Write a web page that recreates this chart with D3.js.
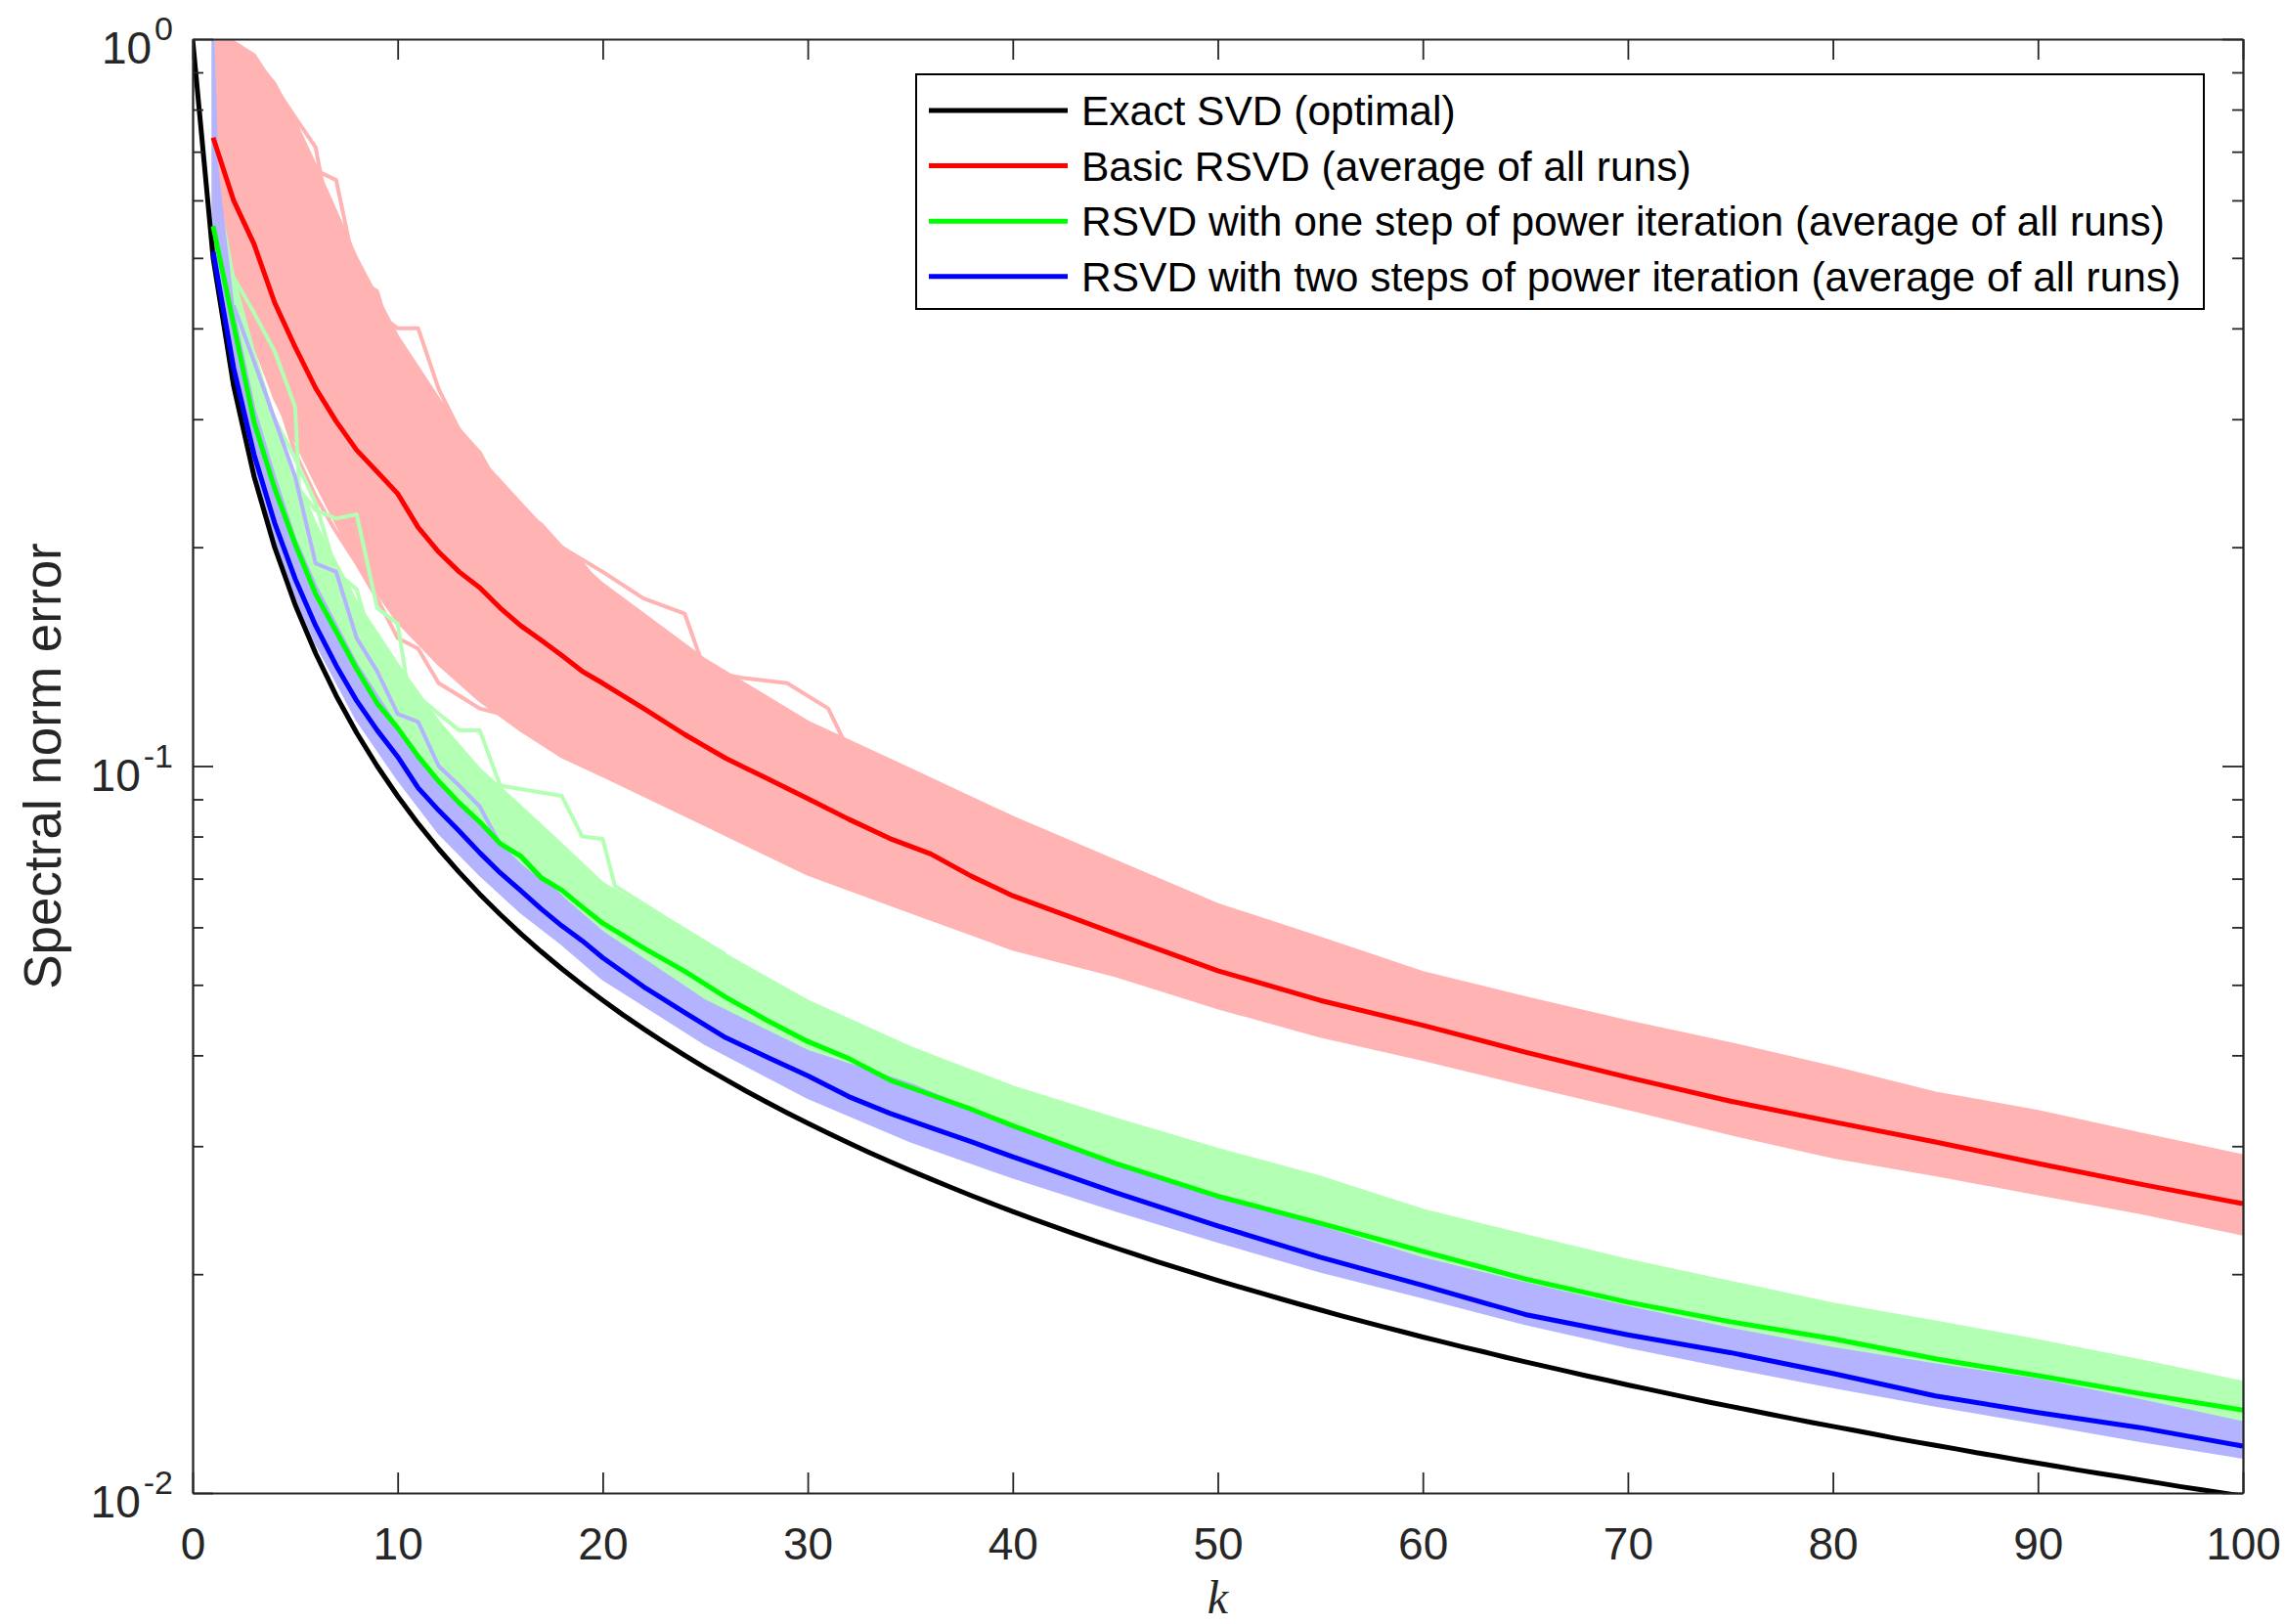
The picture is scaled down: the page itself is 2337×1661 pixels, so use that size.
<!DOCTYPE html>
<html><head><meta charset="utf-8">
<script src="https://cdn.jsdelivr.net/npm/d3@7"></script>
<style>body{margin:0;background:#fff}svg{display:block}</style>
</head><body>
<svg id="c" width="2337" height="1661"></svg>
<script>
// ---------------- DATA ----------------
const kExact = d3.range(0, 101);
const exactSVD = [1,0.5,0.3333,0.25,0.2,0.1667,0.1429,0.125,0.1111,0.1,
0.09091,0.08333,0.07692,0.07143,0.06667,0.0625,0.05882,0.05556,0.05263,0.05,
0.04762,0.04545,0.04348,0.04167,0.04,0.03846,0.03704,0.03571,0.03448,0.03333,
0.03226,0.03125,0.0303,0.02941,0.02857,0.02778,0.02703,0.02632,0.02564,0.025,
0.02439,0.02381,0.02326,0.02273,0.02222,0.02174,0.02128,0.02083,0.02041,0.02,
0.01961,0.01923,0.01887,0.01852,0.01818,0.01786,0.01754,0.01724,0.01695,0.01667,
0.01639,0.01613,0.01587,0.01563,0.01538,0.01515,0.01493,0.01471,0.01449,0.01429,
0.01408,0.01389,0.0137,0.01351,0.01333,0.01316,0.01299,0.01282,0.01266,0.0125,
0.01235,0.0122,0.01205,0.0119,0.01176,0.01163,0.0115,0.01136,0.01124,0.01111,
0.01099,0.01087,0.01075,0.01064,0.01053,0.01042,0.01031,0.0102,0.0101,0.01,0.0099];

const kAvg = [1,2,3,4,5,6,7,8,9,10,11,12,13,14,15,16,17,18,19,20,
22,24,26,28,30,32,34,36,38,40,45,50,55,60,65,70,75,80,85,90,95,100];
const redAvg = [0.732,0.600,0.522,0.434,0.377,0.331,0.298,0.272,0.254,0.237,0.213,0.197,0.185,0.176,0.165,0.156,0.149,0.142,0.135,0.13,
0.12,0.1105,0.1025,0.0962,0.0902,0.0845,0.0795,0.0757,0.0705,0.0663,
0.0588,0.0523,0.0476,0.044,0.0404,0.0373,0.0346,0.0324,0.0304,0.0284,0.0266,0.025];
const greenAvg = [0.553,0.405,0.297,0.241,0.202,0.1724,0.1532,0.136,0.122,0.1128,0.1031,0.0953,0.089,0.0838,0.0782,0.0752,0.0702,0.0675,0.064,0.0608,
0.0562,0.0522,0.0481,0.0447,0.0418,0.0396,0.037,0.0353,0.0337,0.032,
0.0284,0.0256,0.0235,0.0215,0.0197,0.0183,0.0172,0.0163,0.0153,0.0145,0.0137,0.013];
const blueAvg = [0.51,0.353,0.268,0.216,0.181,0.156,0.1375,0.123,0.112,0.103,0.0933,0.0869,0.0814,0.076,0.0713,0.0674,0.0636,0.0603,0.0575,0.0545,
0.0497,0.0458,0.0423,0.0398,0.0375,0.0351,0.0333,0.0318,0.0304,0.029,
0.0259,0.0233,0.0211,0.0193,0.0176,0.0165,0.0156,0.0146,0.0136,0.0129,0.0123,0.0116];

// spread of the individual runs (band of all runs)
const bandK = [1,1.2,2,3,4,5,6,8,10,12,14,16,18,20,25,30,35,40,45,50,55,60,65,70,75,80,85,90,95,100];
const redLo = [0.55,0.54,0.47,0.38,0.32,0.28,0.245,0.19,0.158,0.138,0.123,0.112,0.103,0.097,0.083,0.071,0.063,0.056,0.0515,0.0465,0.0425,0.0395,0.0365,0.0338,0.0312,0.029,0.0274,0.0258,0.0243,0.0227];
const redHi = [1.0,1.0,0.98,0.94,0.87,0.77,0.67,0.50,0.39,0.32,0.265,0.23,0.2,0.178,0.14,0.115,0.099,0.085,0.074,0.0645,0.058,0.052,0.048,0.0445,0.0415,0.0385,0.0355,0.0335,0.0312,0.0291];
const greenLo = [0.5,0.47,0.36,0.27,0.215,0.18,0.155,0.122,0.101,0.087,0.076,0.068,0.061,0.056,0.046,0.0395,0.035,0.0305,0.0275,0.025,0.023,0.021,0.0194,0.018,0.0168,0.0158,0.0149,0.0141,0.0133,0.0124];
const greenHi = [1.0,0.62,0.47,0.37,0.30,0.25,0.215,0.168,0.138,0.115,0.099,0.088,0.078,0.069,0.057,0.0475,0.041,0.0362,0.0327,0.0297,0.0272,0.0245,0.0226,0.0209,0.0195,0.0182,0.0172,0.0162,0.0152,0.0142];
const blueLo = [0.5,0.46,0.335,0.255,0.205,0.172,0.148,0.116,0.096,0.081,0.071,0.063,0.057,0.051,0.0415,0.035,0.0305,0.0272,0.0245,0.0222,0.0202,0.0186,0.0171,0.0159,0.0149,0.014,0.0132,0.0125,0.0118,0.0112];
const blueHi = [1.0,0.66,0.42,0.31,0.25,0.205,0.177,0.138,0.113,0.095,0.083,0.073,0.066,0.059,0.0475,0.0405,0.0365,0.0318,0.0285,0.0255,0.0232,0.021,0.0194,0.018,0.0168,0.0158,0.015,0.0143,0.0134,0.0125];

// a few individual outlying runs, [k, error]
const redRunA = [[1,1.0],[2,0.99],[3,0.95],[4,0.86],[5,0.78],[6,0.71],[7,0.50],[8,0.48],[9,0.42],[10,0.40],[11,0.40],[12,0.33],[13,0.29],[14,0.27],[15,0.24],[16,0.225],[17,0.215],[18,0.20],[19,0.19],[20,0.175],[22,0.15],[24,0.135]];
const redRunB = [[1,0.98],[2,0.96],[3,0.90],[4,0.78],[5,0.68],[6,0.66],[7,0.64],[8,0.47],[9,0.45],[10,0.36],[11,0.30],[12,0.29],[13,0.25],[14,0.245],[15,0.22],[16,0.205],[17,0.195],[18,0.185],[19,0.17],[20,0.16],[22,0.145]];
const redRunC = [[2,0.93],[3,0.80],[4,0.73],[5,0.60],[6,0.52],[7,0.44],[8,0.43],[9,0.34],[10,0.31],[11,0.30],[12,0.30],[13,0.235],[14,0.22],[15,0.21],[16,0.19],[17,0.185],[18,0.17],[19,0.165],[20,0.155]];
const redRunD = [[1,0.6],[2,0.45],[3,0.38],[4,0.33],[5,0.27],[6,0.235],[7,0.21],[8,0.19],[9,0.17],[10,0.15],[11,0.145],[12,0.13],[13,0.125],[14,0.12],[15,0.118],[16,0.116],[17,0.11],[18,0.108],[19,0.106],[20,0.103],[22,0.097],[24,0.092],[26,0.085],[28,0.08],[30,0.074]];
const redRunE = [[16,0.22],[18,0.2],[20,0.185],[22,0.17],[24,0.162],[25,0.135],[27,0.132],[29,0.13],[31,0.12],[32,0.105],[34,0.098],[36,0.09]];
const greenRunA = [[2,0.47],[3,0.42],[4,0.372],[5,0.312],[5.2,0.24],[6,0.225],[7,0.219],[8,0.222],[9,0.165],[10,0.157],[10.5,0.128],[12,0.118],[13,0.112],[14,0.112],[15,0.094],[16,0.093],[17,0.092],[18,0.091],[19,0.08],[20,0.0794],[20.6,0.0684],[23,0.062],[26,0.055]];
const greenRunB = [[3,0.33],[4,0.30],[5,0.265],[6,0.23],[7,0.185],[8,0.175],[9,0.14],[10,0.125],[11,0.122],[12,0.105],[13,0.10],[14,0.095],[15,0.085],[16,0.08]];
const blueRunA = [[2,0.43],[3,0.36],[4,0.30],[5,0.25],[6,0.19],[7,0.185],[8,0.15],[9,0.135],[10,0.118],[11,0.115],[12,0.10],[13,0.094],[14,0.088],[15,0.078],[16,0.075],[17,0.07],[18,0.066]];

const xTicks = [0,10,20,30,40,50,60,70,80,90,100];
const yMajor = [0.01,0.1,1];
const yMajorExp = ["-2","-1","0"];
const yMinor = [0.02,0.03,0.04,0.05,0.06,0.07,0.08,0.09,0.2,0.3,0.4,0.5,0.6,0.7,0.8,0.9];
const legendLabels = ["Exact SVD (optimal)","Basic RSVD (average of all runs)",
 "RSVD with one step of power iteration (average of all runs)",
 "RSVD with two steps of power iteration (average of all runs)"];

// ---------------- DRAW ----------------
const L=197,R=2294,T=40,B=1527;
const FONT="'Liberation Sans', Arial, Helvetica, sans-serif";
const AX='#262626';
const x=d3.scaleLinear().domain([0,100]).range([L,R]);
const y=d3.scaleLog().domain([0.01,1]).range([B,T]);
const svg=d3.select('#c');
svg.append('rect').attr('width',2337).attr('height',1661).attr('fill','#fff');
svg.append('defs').append('clipPath').attr('id','clip').append('rect')
  .attr('x',L).attr('y',T).attr('width',R-L).attr('height',B-T);
const plot=svg.append('g').attr('clip-path','url(#clip)');

const area=d3.area().x(d=>x(d[0])).y0(d=>y(d[1])).y1(d=>y(d[2]));
const line=d3.line().x(d=>x(d[0])).y(d=>y(d[1]));
const band=(lo,hi)=>bandK.map((k,i)=>[k,lo[i],hi[i]]);
const zipK=(ks,vs)=>ks.map((k,i)=>[k,vs[i]]);

const lightRed='#ffb3b3', lightGreen='#b3ffb3', lightBlue='#b3b3ff';
function runs(list,col){
  list.forEach(r=>plot.append('path').datum(r).attr('d',line)
    .attr('fill','none').attr('stroke',col).attr('stroke-width',4).attr('stroke-linejoin','round'));
}
plot.append('path').datum(band(redLo,redHi)).attr('d',area).attr('fill',lightRed)
  .attr('stroke',lightRed).attr('stroke-width',3);
runs([redRunA,redRunB,redRunC,redRunD,redRunE],lightRed);
plot.append('path').datum(band(greenLo,greenHi)).attr('d',area).attr('fill',lightGreen)
  .attr('stroke',lightGreen).attr('stroke-width',3);
runs([greenRunA,greenRunB],lightGreen);
plot.append('path').datum(band(blueLo,blueHi)).attr('d',area).attr('fill',lightBlue)
  .attr('stroke',lightBlue).attr('stroke-width',3);
runs([blueRunA],lightBlue);

const avgLines=[
  {d:zipK(kExact,exactSVD),c:'#000000'},
  {d:zipK(kAvg,redAvg),c:'#ff0000'},
  {d:zipK(kAvg,greenAvg),c:'#00ff00'},
  {d:zipK(kAvg,blueAvg),c:'#0000ff'}];
avgLines.forEach(s=>plot.append('path').datum(s.d).attr('d',line).attr('fill','none')
  .attr('stroke',s.c).attr('stroke-width',5).attr('stroke-linejoin','round'));

// axes
function styleAxis(g){
  g.attr('font-family',FONT);
  g.selectAll('.domain').attr('stroke',AX).attr('stroke-width',1.8);
  g.selectAll('.tick line').attr('stroke',AX).attr('stroke-width',1.8);
  g.selectAll('.tick text').attr('fill',AX);
}
const gB=svg.append('g').attr('transform',`translate(0,${B})`)
  .call(d3.axisBottom(x).tickValues(xTicks).tickSizeInner(-21).tickSizeOuter(0).tickPadding(35).tickFormat(d3.format('d')));
styleAxis(gB); gB.attr('font-size',46);
const gT=svg.append('g').attr('transform',`translate(0,${T})`)
  .call(d3.axisTop(x).tickValues(xTicks).tickSizeInner(-21).tickSizeOuter(0).tickFormat(''));
styleAxis(gT);
const gL=svg.append('g').attr('transform',`translate(${L},0)`)
  .call(d3.axisLeft(y).tickValues(yMajor).tickSizeInner(-21).tickSizeOuter(0).tickFormat(''));
styleAxis(gL);
const gLm=svg.append('g').attr('transform',`translate(${L},0)`)
  .call(d3.axisLeft(y).tickValues(yMinor).tickSizeInner(-11).tickSizeOuter(0).tickFormat(''));
styleAxis(gLm);
const gR=svg.append('g').attr('transform',`translate(${R},0)`)
  .call(d3.axisRight(y).tickValues(yMajor).tickSizeInner(-21).tickSizeOuter(0).tickFormat(''));
styleAxis(gR);
const gRm=svg.append('g').attr('transform',`translate(${R},0)`)
  .call(d3.axisRight(y).tickValues(yMinor).tickSizeInner(-11).tickSizeOuter(0).tickFormat(''));
styleAxis(gRm);

// y tick labels 10^n
yMajor.forEach((v,i)=>{
  const t=svg.append('text').attr('x',177).attr('y',y(v)+25).attr('text-anchor','end')
    .attr('font-family',FONT).attr('font-size',46).attr('fill',AX);
  t.append('tspan').text('10');
  t.append('tspan').attr('dx',3).attr('dy',-24).attr('font-size',34).text(yMajorExp[i]);
});

// axis titles
svg.append('text').attr('transform',`translate(62,${(T+B)/2}) rotate(-90)`).attr('text-anchor','middle')
  .attr('font-family',FONT).attr('font-size',53).attr('fill',AX).text('Spectral norm error');
svg.append('text').attr('x',(L+R)/2).attr('y',1650).attr('text-anchor','middle')
  .attr('font-family',"'Liberation Serif','DejaVu Serif',serif").attr('font-style','italic')
  .attr('font-size',48).attr('fill',AX).text('k');

// legend
const lg=svg.append('g');
lg.append('rect').attr('x',937).attr('y',76).attr('width',1317).attr('height',240)
  .attr('fill','#fff').attr('stroke','#000').attr('stroke-width',2);
const legColors=['#000000','#ff0000','#00ff00','#0000ff'];
legendLabels.forEach((lab,i)=>{
  const yy=113+56.6*i;
  lg.append('line').attr('x1',950).attr('x2',1092).attr('y1',yy).attr('y2',yy)
    .attr('stroke',legColors[i]).attr('stroke-width',5);
  lg.append('text').attr('x',1106).attr('y',yy+15).attr('font-family',FONT).attr('font-size',42.5)
    .attr('fill','#000').text(lab);
});
</script>
</body></html>
